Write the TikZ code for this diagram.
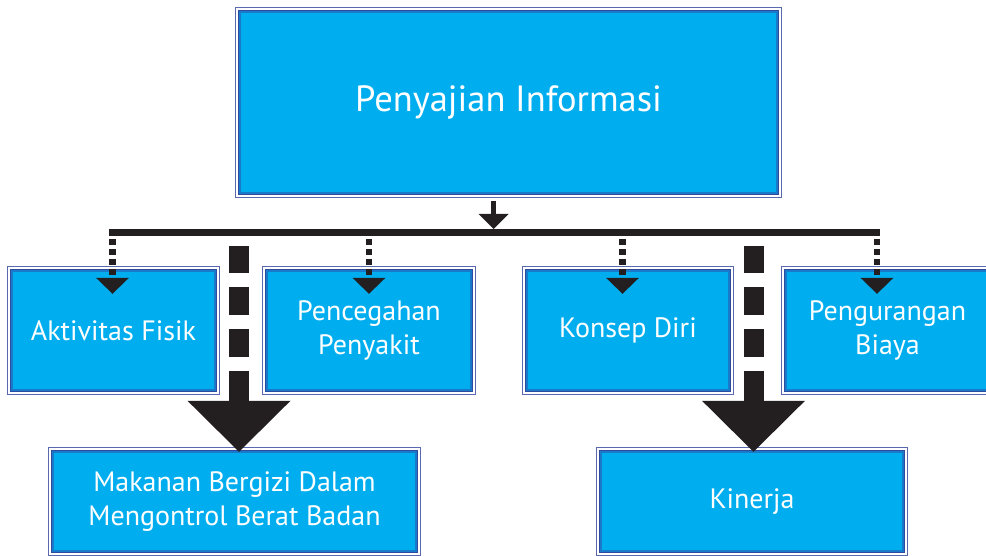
\documentclass[tikz,border=0pt]{standalone}
\usepackage{fontspec}
\setmainfont{PT Sans}
\usetikzlibrary{arrows.meta,calc}
\definecolor{cyanf}{HTML}{00AEEF}
\definecolor{outerc}{HTML}{5A68B0}
\definecolor{bandc}{HTML}{2D4B9F}
\definecolor{innerc}{HTML}{1B79C9}
\definecolor{arrowc}{HTML}{231F20}
\begin{document}
\begin{tikzpicture}[x=1pt,y=-1pt,
  box/.style={fill=cyanf, draw=bandc, line width=1.4pt, text=white, align=center, inner sep=0pt, font=\fontsize{28}{34}\selectfont},
  outerbox/.style={draw=outerc, line width=1.1pt},
  innerline/.style={draw=innerc, line width=1.3pt},
  barline/.style={draw=arrowc, line width=7pt},
  smallarrow/.style={draw=arrowc, line width=6.5pt, dash pattern=on 6pt off 4pt, -{Triangle[length=16pt,width=33pt,line width=0pt]}},
  bigarrow/.style={draw=arrowc, line width=20pt, dash pattern=on 27.5pt off 14pt on 27.5pt off 14pt on 27.5pt off 14pt on 60pt off 1pt, -{Triangle[length=51pt,width=103pt,line width=0pt]}},
  toparrow/.style={draw=arrowc, line width=5.5pt, -{Triangle[length=15pt,width=30pt,line width=0pt]}}
]
\useasboundingbox (0,0) rectangle (986,556);
\clip (0,0) rectangle (986,556);

% boxes
\node[box, minimum width=539pt, minimum height=183pt, font=\fontsize{36.5}{44}\selectfont] (top) at (508.5,102.5) {Penyajian Informasi};
\node[box, minimum width=205pt, minimum height=121pt] (akt) at (113.5,330.5) {Aktivitas Fisik};
\node[box, minimum width=206pt, minimum height=121pt] (pen) at (369,330.5) {Pencegahan\\Penyakit};
\node[box, minimum width=204pt, minimum height=121pt] (kon) at (628,330.5) {Konsep Diri};
\node[box, minimum width=205pt, minimum height=121pt] (peng) at (887.5,330.5) {Pengurangan\\Biaya};
\node[box, minimum width=365pt, minimum height=101pt] (mak) at (234.5,501.5) {Makanan Bergizi Dalam\\Mengontrol Berat Badan};
\node[box, minimum width=304pt, minimum height=101pt] (kin) at (752,501.5) {Kinerja};

\foreach \n in {top,akt,pen,kon,peng,mak,kin}{
  \draw[outerbox] ([shift={(-3pt,-3pt)}]\n.south west) rectangle ([shift={(3pt,3pt)}]\n.north east);
  \draw[innerline] ([shift={(1.8pt,1.8pt)}]\n.south west) rectangle ([shift={(-1.8pt,-1.8pt)}]\n.north east);
}

% connectors
\coordinate (topout) at (493.5,201);
\coordinate (bartop) at (493.5,229);
\coordinate (barL) at (109,232.5);
\coordinate (barR) at (880,232.5);
\draw[toparrow] (topout) -- (bartop);
\draw[barline] (barL) -- (barR);

\coordinate (sA) at (112.5,229);
\coordinate (sB) at (369,229);
\coordinate (sC) at (622.5,229);
\coordinate (sD) at (877,229);
\draw[smallarrow] (sA) -- ([yshift=-24.5pt]sA |- akt.north);
\draw[smallarrow] (sB) -- ([yshift=-24.5pt]sB |- pen.north);
\draw[smallarrow] (sC) -- ([yshift=-24.5pt]sC |- kon.north);
\draw[smallarrow] (sD) -- ([yshift=-24.5pt]sD |- peng.north);

\coordinate (bL) at (239,246);
\coordinate (bR) at (753.5,246);
\draw[bigarrow] (bL) -- ([yshift=-1.5pt]bL |- mak.north);
\draw[bigarrow] (bR) -- ([yshift=-1.5pt]bR |- kin.north);
\end{tikzpicture}
\end{document}
